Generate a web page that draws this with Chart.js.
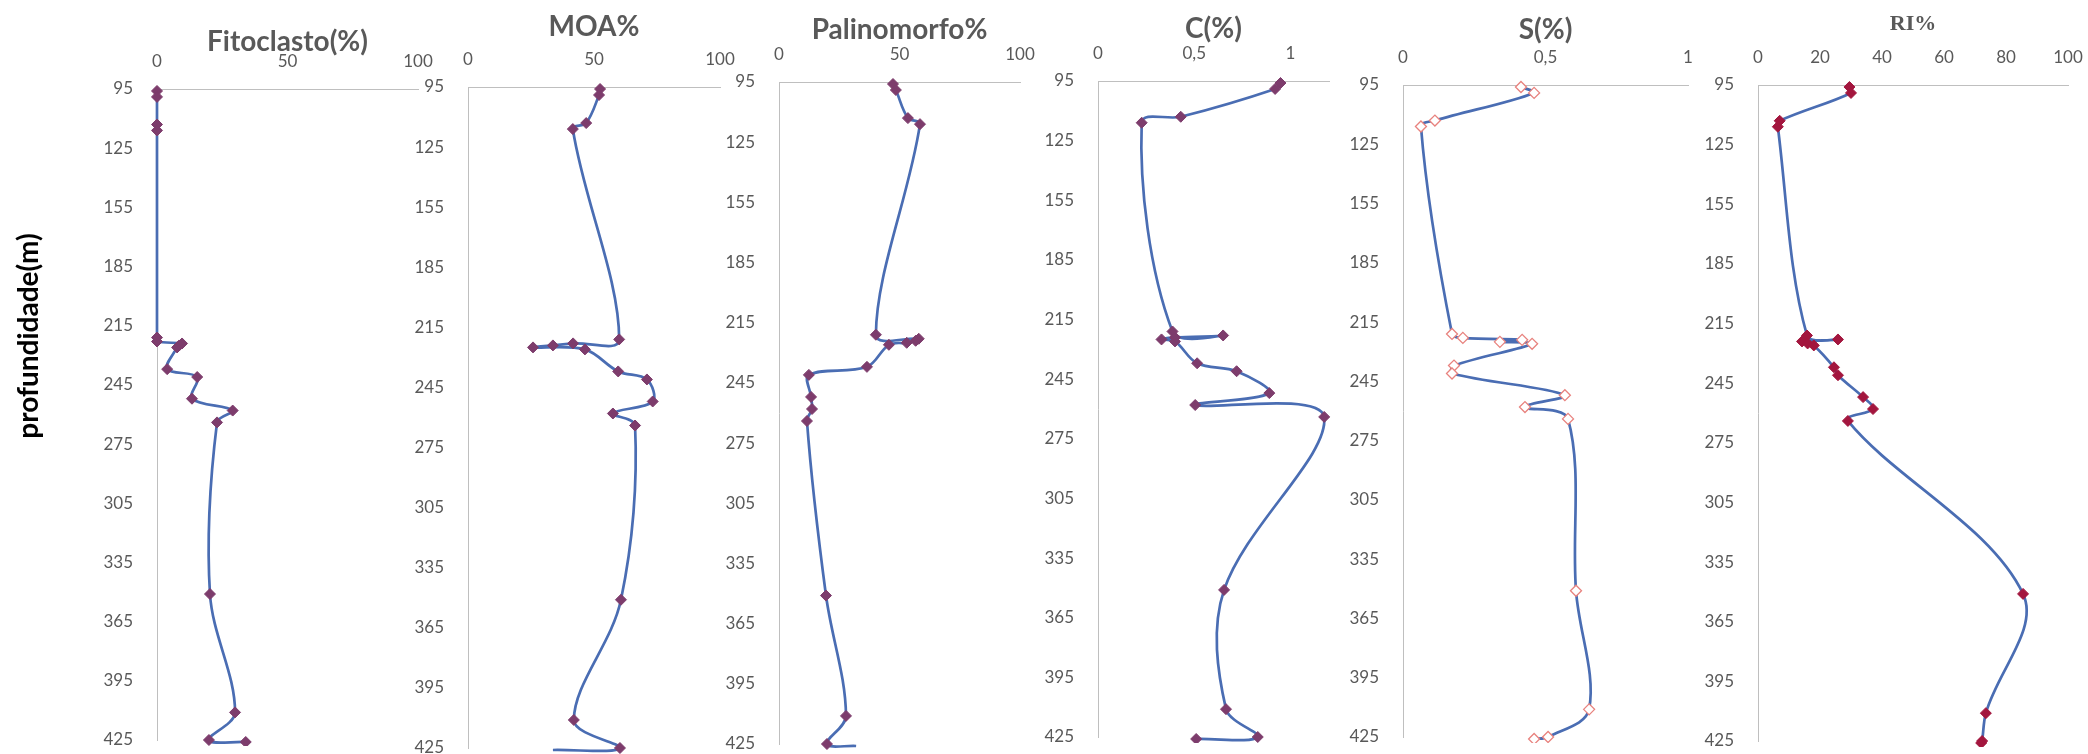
<!DOCTYPE html>
<html>
<head>
<meta charset="utf-8">
<title>Perfil geoquímico</title>
<script src="https://cdn.jsdelivr.net/npm/chart.js@4.4.1/dist/chart.umd.min.js"></script>
<style>
  html, body { margin: 0; padding: 0; background: #fff; overflow: hidden; }
  body { width: 2088px; height: 754px; position: relative; }
  canvas { position: absolute; top: 0; }
</style>
</head>
<body>
<canvas id="fito"></canvas>
<canvas id="moa"></canvas>
<canvas id="palino"></canvas>
<canvas id="carbono"></canvas>
<canvas id="enxofre"></canvas>
<canvas id="ri"></canvas>
<script>
// profundidade das amostras (m)
const depths = [96, 99, 113, 116, 221, 223, 224, 225, 226, 237, 241, 252, 258, 264, 351, 411, 425, 426];

const fitoclasto = [0, 0, 0, 0, 0, 0, 9.6, 8.5, 7.7, 3.9, 15.4, 13.4, 29, 23, 20.3, 29.9, 19.9, 34];
const moa = [52.4, 52, 46.9, 41.6, 60, 41.7, 33.7, 25.8, 46.4, 59.6, 71, 73.3, 57.5, 66.3, 60.7, 42, 60.3, 33.7];
const palinomorfo = [47.3, 48.5, 53.5, 58.5, 40.2, 58, 56.7, 53, 45.6, 36.5, 12.4, 13.3, 13.7, 11.6, 19.5, 27.8, 19.9, 32];
const carbono = [0.948, 0.92, 0.43, 0.227, 0.387, 0.65, 0.40, 0.33, 0.40, 0.515, 0.72, 0.89, 0.505, 1.175, 0.655, 0.665, 0.83, 0.51];
const enxofre = [0.414, 0.46, 0.112, 0.063, 0.172, 0.21, 0.418, 0.34, 0.453, 0.179, 0.172, 0.568, 0.428, 0.579, 0.607, 0.653, 0.509, 0.46];
const ri = [29.5, 30, 7, 6.4, 15.8, 25.8, 14.2, 16, 18, 24.5, 25.8, 33.9, 37.1, 29, 85.5, 73.5, 72.3, 72];

const depthTicks = { min: 95, max: 425, step: 30 };

const lineBlue = '#4A6DB3';
const plum = '#7D3C6C';
const crimson = '#A3163E';
const grey = '#595959';
const CANVAS_H = 800;

const comma = v => String(v).replace('.', ',');

const panels = [
  { id: 'fito', title: 'Fitoclasto(%)', values: fitoclasto, max: 100, step: 50,
    x0: 157, x1: 418, top: 89, bottom: 740, titleY: 42, marker: 'filled', color: plum },
  { id: 'moa', title: 'MOA%', values: moa, max: 100, step: 50,
    x0: 468, x1: 720, top: 87, bottom: 748, titleY: 27, marker: 'filled', color: plum, hideLast: true },
  { id: 'palino', title: 'Palinomorfo%', values: palinomorfo, max: 100, step: 50,
    x0: 779, x1: 1020, top: 82, bottom: 744, titleY: 30, marker: 'filled', color: plum, hideLast: true },
  { id: 'carbono', title: 'C(%)', values: carbono, max: 1.2, step: 0.5,
    x0: 1098, x1: 1329, top: 81, bottom: 737, titleY: 29, marker: 'filled', color: plum, comma: true },
  { id: 'enxofre', title: 'S(%)', values: enxofre, max: 1, step: 0.5,
    x0: 1403, x1: 1688, top: 85, bottom: 737, titleY: 30, marker: 'hollow', color: '#E8827E', comma: true },
  { id: 'ri', title: 'RI%', values: ri, max: 100, step: 20,
    x0: 1758, x1: 2068, top: 85, bottom: 741, titleY: 24, marker: 'filled', color: crimson, serif: true }
];

// rótulo vertical do eixo de profundidade (só no primeiro painel)
const depthTitle = {
  id: 'depthTitle',
  afterDraw(chart) {
    const {ctx} = chart;
    ctx.save();
    ctx.translate(29, 336);
    ctx.rotate(-Math.PI / 2);
    ctx.font = 'bold 28px Lato';
    ctx.fillStyle = '#000';
    ctx.textAlign = 'center';
    ctx.textBaseline = 'middle';
    ctx.fillText('profundidade(m)', 0, 0);
    ctx.restore();
  }
};

panels.forEach((p, i) => {
  const canvas = document.getElementById(p.id);
  const left = i === 0 ? 0 : p.x0 - 62;
  const width = p.x1 + 24 - left;
  canvas.width = width;
  canvas.height = CANVAS_H;
  canvas.style.left = left + 'px';

  const titleFont = p.serif
    ? { family: '"Liberation Serif", serif', weight: 'bold', size: 22 }
    : { family: 'Lato, sans-serif', weight: 'bold', size: 28 };
  const titleHalf = titleFont.size * 1.2 / 2;

  const points = depths.map((d, k) => ({ x: p.values[k], y: d }));
  const hollow = p.marker === 'hollow';
  const radii = depths.map((d, k) => (p.hideLast && k === depths.length - 1) ? 0 : 5.5);

  new Chart(canvas, {
    type: 'scatter',
    data: {
      datasets: [{
        data: points,
        showLine: true,
        tension: 0.35,
        borderColor: lineBlue,
        borderWidth: 2.7,
        pointStyle: 'rectRot',
        pointRadius: radii,
        pointHoverRadius: radii,
        pointBackgroundColor: hollow ? '#fff' : p.color,
        pointBorderColor: p.color,
        pointBorderWidth: hollow ? 1.3 : 1,
        clip: 6
      }]
    },
    options: {
      responsive: false,
      animation: false,
      layout: { padding: { left: 0, top: 0, right: 24, bottom: CANVAS_H - p.bottom } },
      plugins: { legend: { display: false }, tooltip: { enabled: false } },
      scales: {
        x: {
          type: 'linear',
          position: 'top',
          min: 0,
          max: p.max,
          afterFit: s => { s.height = p.top; },
          grid: { display: false },
          border: { color: '#BFBFBF', width: 1 },
          ticks: {
            stepSize: p.step,
            includeBounds: false,
            padding: 9,
            color: grey,
            font: { family: 'Lato, sans-serif', size: 17 },
            callback: v => p.comma ? comma(v) : v
          },
          title: {
            display: true,
            text: p.title,
            color: grey,
            font: titleFont,
            padding: { top: p.titleY - titleHalf, bottom: 0 }
          }
        },
        y: {
          type: 'linear',
          reverse: true,
          min: depthTicks.min,
          max: depthTicks.max,
          afterFit: s => { s.width = p.x0 - left; },
          grid: { display: false },
          border: { color: '#BFBFBF', width: 1 },
          ticks: {
            stepSize: depthTicks.step,
            padding: 16,
            color: grey,
            font: { family: 'Lato, sans-serif', size: 17 }
          }
        }
      }
    },
    plugins: i === 0 ? [depthTitle] : []
  });
});
</script>
</body>
</html>
